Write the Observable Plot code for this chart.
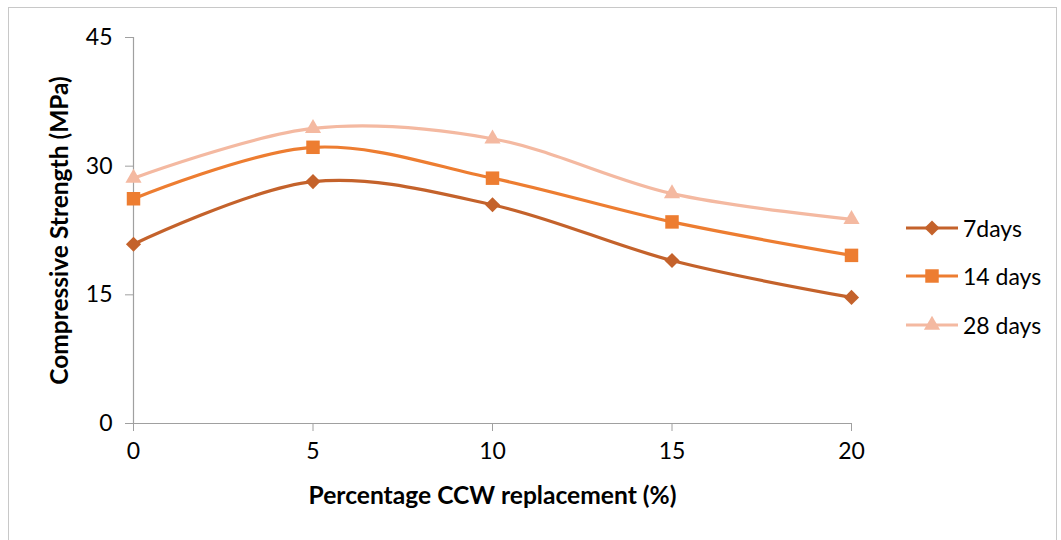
<!DOCTYPE html>
<html>
<head>
<meta charset="utf-8">
<script src="https://cdn.jsdelivr.net/npm/d3@7"></script>
<script src="https://cdn.jsdelivr.net/npm/@observablehq/plot@0.6"></script>
<style>
  html, body { margin: 0; padding: 0; background: #fff; }
  #wrap { position: relative; width: 1061px; height: 540px; overflow: hidden; font-family: Lato, "Open Sans", sans-serif; }
  #border { position: absolute; left: 8px; top: 7px; width: 1049px; height: 540px; border: 1px solid #c8c8c8; box-sizing: border-box; }
  #chart { position: absolute; left: 0; top: 0; }
  .leg { position: absolute; left: 904px; display: flex; align-items: center; font-size: 23px; color: #000; }
  .leg svg { margin-right: 3px; }
</style>
</head>
<body>
<div id="wrap">
  <div id="border"></div>
  <div id="chart"></div>
  <div id="legend"></div>
</div>
<script>
const replacement = [0, 5, 10, 15, 20];
const seriesNames = ["7days", "14 days", "28 days"];
const days7  = [20.9, 28.2, 25.5, 19.0, 14.7];
const days14 = [26.2, 32.2, 28.6, 23.5, 19.6];
const days28 = [28.6, 34.4, 33.2, 26.8, 23.8];
const yTicks = [0, 15, 30, 45];
const xTicks = [0, 5, 10, 15, 20];

const colors = ["#C4622B", "#ED7D31", "#F4B9A1"];
const symbols = ["diamond2", "square", "triangle"];
const symbolR = [6.8, 7.6, 6.0];
const allSeries = [days7, days14, days28];

const data = [];
allSeries.forEach((vals, i) => {
  vals.forEach((v, j) => data.push({series: seriesNames[i], x: replacement[j], y: v, r: symbolR[i]}));
});

const W = 1061, H = 540;
const chart = Plot.plot({
  width: W, height: H,
  marginLeft: 133, marginRight: 210, marginTop: 37, marginBottom: 117,
  style: {fontFamily: "Lato, 'Open Sans', sans-serif", fontSize: "23px", color: "#000", background: "transparent"},
  x: {domain: [0, 20]},
  y: {domain: [0, 45]},
  r: {type: "identity"},
  color: {domain: seriesNames, range: colors},
  symbol: {domain: seriesNames, range: symbols},
  marks: [
    Plot.axisX({ticks: xTicks, tickSize: 8, tickPadding: 11, stroke: "#a0a0a0", fontSize: 23, label: "Percentage CCW replacement (%)", labelAnchor: "center", labelOffset: 80, labelArrow: "none"}),
    Plot.axisY({ticks: yTicks, tickSize: 8, tickPadding: 13, stroke: "#a0a0a0", fontSize: 23, label: "Compressive Strength (MPa)", labelAnchor: "center", labelOffset: 83, labelArrow: "none"}),
    Plot.ruleY([0], {stroke: "#a0a0a0", strokeWidth: 1.2}),
    Plot.ruleX([0], {stroke: "#a0a0a0", strokeWidth: 1.2}),
    Plot.line(data, {x: "x", y: "y", z: "series", stroke: "series", strokeWidth: 3.2, curve: "catmull-rom"}),
    Plot.dot(data, {x: "x", y: "y", fill: "series", symbol: "series", r: "r", stroke: "none"})
  ]
});
chart.querySelectorAll('[aria-label="x-axis label"] text').forEach(t => {
  t.setAttribute("font-weight", "bold");
  t.setAttribute("font-size", "24.6px");
});
chart.querySelectorAll('[aria-label="y-axis label"] text').forEach(t => {
  t.setAttribute("font-weight", "bold");
  t.setAttribute("font-size", "24.5px");
});
document.getElementById("chart").appendChild(chart);

// legend
const legTops = [228, 276, 325];
const leg = document.getElementById("legend");
const d3Sym = {diamond2: d3.symbolDiamond2, square: d3.symbolSquare, triangle: d3.symbolTriangle};
seriesNames.forEach((name, i) => {
  const d = document.createElement("div");
  d.className = "leg";
  d.style.top = (legTops[i] - 14) + "px";
  const sym = d3.symbol(d3Sym[symbols[i]], Math.PI * symbolR[i] * symbolR[i])();
  d.innerHTML = `<svg width="56" height="28"><line x1="2" x2="54" y1="14" y2="14" stroke="${colors[i]}" stroke-width="3.2"/><path d="${sym}" transform="translate(28,14)" fill="${colors[i]}"/></svg><span>${name}</span>`;
  leg.appendChild(d);
});
</script>
</body>
</html>
